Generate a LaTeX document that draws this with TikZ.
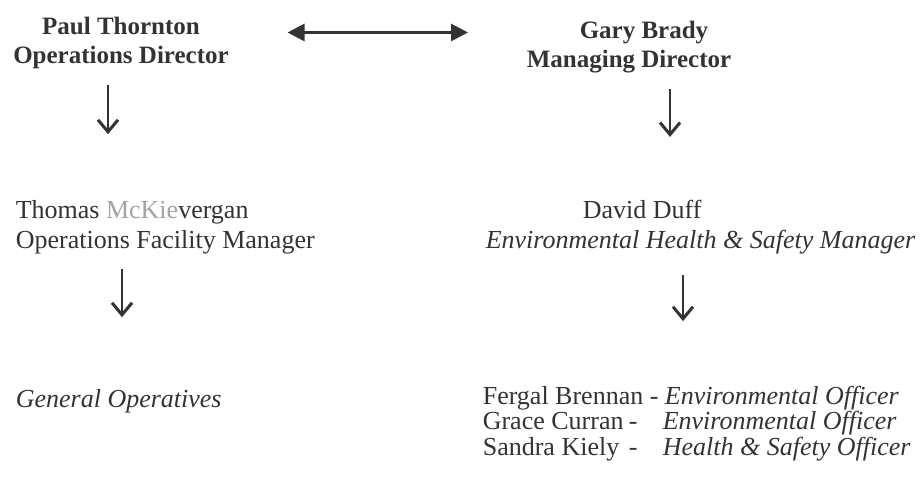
\documentclass[tikz,border=0pt]{standalone}
\usepackage{fontspec}
\setmainfont{Liberation Serif}
\usetikzlibrary{arrows.meta, positioning}
\usepackage{xcolor}
\definecolor{ink}{HTML}{333333}

\begin{document}
\begin{tikzpicture}[x=0.5pt, y=-0.5pt, thick]
        % Define styles
        \tikzstyle{head} = [inner sep=0pt, text=ink, align=center, anchor=base, font=\bfseries\fontsize{12.5}{14.5}\selectfont]
        \tikzstyle{member} = [inner sep=0pt, text=ink, align=left, anchor=base west, font=\fontsize{13}{15}\selectfont]
        \tikzstyle{down} = [draw=ink, line width=1.2pt, -{Straight Barb[length=6pt, width=10pt, line width=1.5pt]}]
        \tikzstyle{both} = [draw=ink, line width=1.4pt, {Triangle[length=8.5pt, width=8.5pt]}-{Triangle[length=8.5pt, width=8.5pt]}]

        \useasboundingbox (0,0) rectangle (920,477);

        % Define nodes (anchored at the baseline of the last line)
        \node [head] (PT) at (121,63) {Paul Thornton\\Operations Director};
        \node [head] (GB) at (629,67) {\hspace*{15pt}Gary Brady\\Managing Director};
        \node [member] (TM) at (15,248) {Thomas {\color{ink!45}McKie}vergan\\Operations Facility Manager};
        \node [member] (DD) at (485,248) {\hspace*{48.5pt}David Duff\\\textit{Environmental Health \& Safety Manager}};
        \node [member] (GO) at (15,407) {\textit{General Operatives}};
        \node [member, font=\fontsize{13}{12.7}\selectfont] (EO) at (482,455) {Fergal Brennan - \textit{Environmental Officer}\\
            \makebox[73pt][l]{Grace Curran}\makebox[17pt][l]{-}\textit{Environmental Officer}\\
            \makebox[73pt][l]{Sandra Kiely}\makebox[17pt][l]{-}\textit{Health \& Safety Officer}};

        % Connect nodes with paths
        \draw [both, shorten <=29pt, shorten >=29pt] ([yshift=5pt]PT.east) -- ([yshift=5pt]PT.east -| GB.west);
        \draw [down, shorten <=8pt, shorten >=32.5pt] ([xshift=-6.5pt]PT.south) -- ([xshift=-6.5pt]PT.south |- TM.north);
        \draw [down, shorten <=7.5pt, shorten >=35.5pt] ([xshift=53.5pt]TM.south west) -- ([xshift=53.5pt]TM.south west |- GO.north);
        \draw [down, shorten <=8pt, shorten >=31pt] ([xshift=20.5pt]GB.south) -- ([xshift=20.5pt]GB.south |- DD.north);
        \draw [down, shorten <=10.5pt, shorten >=32pt] ([xshift=99pt]DD.south west) -- ([xshift=99pt]DD.south west |- EO.north);

    \end{tikzpicture}
\end{document}
